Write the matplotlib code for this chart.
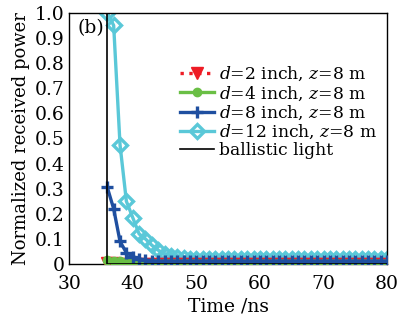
import numpy as np
import matplotlib
matplotlib.use("Agg")
import matplotlib.pyplot as plt

plt.rcParams['font.family'] = ['DejaVu Serif']
plt.rcParams['mathtext.fontset'] = 'dejavuserif'

time = list(range(36, 81))
d12 = [1.0, 0.95, 0.475, 0.25, 0.185, 0.12, 0.10, 0.075, 0.055, 0.04, 0.032, 0.027, 0.024] + [0.021] * 32
d8 = [0.305, 0.22, 0.09, 0.045, 0.03, 0.02, 0.016, 0.013] + [0.011] * 37
d4 = [0.015, 0.014, 0.012, 0.01, 0.008, 0.007, 0.006] + [0.005] * 38
d2 = [0.004, 0.003, 0.002] + [0.001] * 42
ball_t = [36, 36, 80]
ball_v = [1.0, 0.0, 0.0]

labels = ['$d$=2 inch, $z$=8 m', '$d$=4 inch, $z$=8 m', '$d$=8 inch, $z$=8 m',
          '$d$=12 inch, $z$=8 m', 'ballistic light']
yticks = [0, 0.1, 0.2, 0.3, 0.4, 0.5, 0.6, 0.7, 0.8, 0.9, 1.0]
yticklabels = ['0', '0.1', '0.2', '0.3', '0.4', '0.5', '0.6', '0.7', '0.8', '0.9', '1.0']
xticks = [30, 40, 50, 60, 70, 80]

fig = plt.figure(figsize=(4.02, 3.22), dpi=100)
ax = fig.add_axes([0.172, 0.180, 0.791, 0.780])

ax.plot(time, d2, color='#ee1c25', linestyle=':', linewidth=2.4, marker='v', markersize=8, label=labels[0], zorder=3)
ax.plot(time, d4, color='#6abf45', linestyle='-', linewidth=2.4, marker='o', markersize=6, label=labels[1], zorder=3)
ax.plot(time, d8, color='#1f4fa0', linestyle='-', linewidth=2.4, marker='+', markersize=9, markeredgewidth=2.4, label=labels[2], zorder=4)
ax.plot(time, d12, color='#5ac8d8', linestyle='-', linewidth=2.4, marker='D', markersize=7,
        markerfacecolor='none', markeredgewidth=2.4, label=labels[3], zorder=2)
ax.plot(ball_t, ball_v, color='black', linewidth=1.2, label=labels[4], zorder=5)

ax.set_xlim(30, 80)
ax.set_ylim(0, 1.0)
ax.set_xticks(xticks)
ax.set_yticks(yticks)
ax.set_yticklabels(yticklabels)
ax.tick_params(direction='in', length=0, labelsize=13.5)
ax.tick_params(axis='y', pad=3)
ax.tick_params(axis='x', pad=8)
for s in ax.spines.values():
    s.set_linewidth(1.0)

ax.set_xlabel('Time /ns', fontsize=13.5, labelpad=3)
ax.set_ylabel('Normalized received power', fontsize=13, labelpad=4)
ax.text(0.025, 0.975, '(b)', transform=ax.transAxes, fontsize=13.5, va='top', ha='left')

ax.legend(loc='upper left', bbox_to_anchor=(0.31, 0.84), frameon=False, fontsize=12.3,
          handlelength=2.0, handletextpad=0.3, labelspacing=0.05, borderpad=0.2)

fig.savefig('out.png', dpi=100)
